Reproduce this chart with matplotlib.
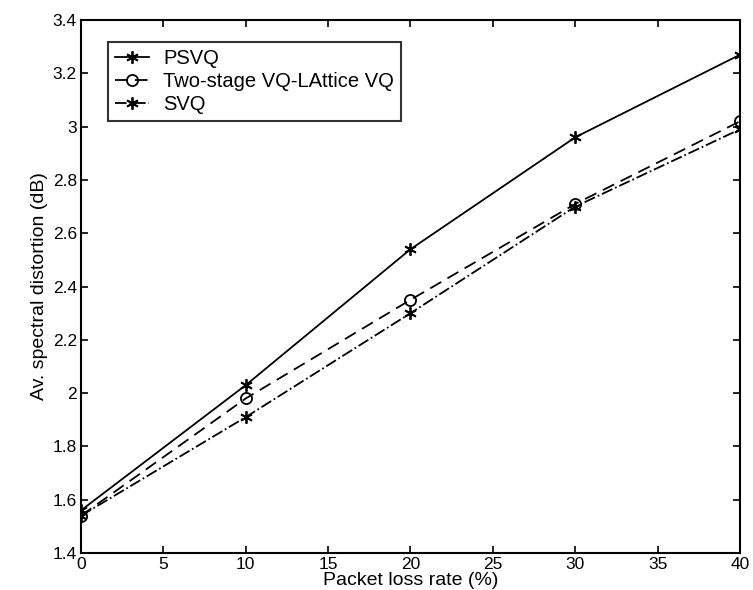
import numpy as np
import matplotlib
matplotlib.use("Agg")
import matplotlib.pyplot as plt

plt.rcParams['font.family'] = ['Liberation Sans', 'DejaVu Sans']

loss_rate = [0, 10, 20, 30, 40]
psvq = [1.56, 2.03, 2.54, 2.96, 3.27]
two_stage = [1.54, 1.98, 2.35, 2.71, 3.02]
svq = [1.54, 1.91, 2.30, 2.70, 2.99]

fig = plt.figure(figsize=(7.53, 5.9), dpi=100)
ax = fig.add_axes([0.1076, 0.0627, 0.8751, 0.9033])

star = (6, 2, 0)  # thin asterisk, like matlab '*'
ax.plot(loss_rate, psvq, 'k-', marker=star, markersize=9, markeredgewidth=1.3,
        linewidth=1.3, label='PSVQ')
ax.plot(loss_rate, two_stage, 'k--', marker='o', markersize=8, markerfacecolor='none',
        markeredgewidth=1.3, linewidth=1.3, dashes=(7, 4), label='Two-stage VQ-LAttice VQ')
ax.plot(loss_rate, svq, 'k-.', marker=star, markersize=9, markeredgewidth=1.3,
        linewidth=1.3, label='SVQ')

ax.set_xlim(0, 40)
ax.set_ylim(1.4, 3.4)
ax.set_xticks(np.arange(0, 41, 5))
ax.set_yticks(np.arange(1.4, 3.41, 0.2))
ax.set_yticklabels(['1.4', '1.6', '1.8', '2', '2.2', '2.4', '2.6', '2.8', '3', '3.2', '3.4'])
ax.tick_params(direction='in', length=5, labelsize=12.5, width=1.2, pad=3)
ax.tick_params(top=True, right=True)
for s in ax.spines.values():
    s.set_linewidth(1.5)

ax.set_xlabel('Packet loss rate (%)', fontsize=14, labelpad=0)
ax.set_ylabel('Av. spectral distortion (dB)', fontsize=14, labelpad=3)

leg = ax.legend(loc='upper left', bbox_to_anchor=(0.041, 0.959), fontsize=14.5,
                frameon=True, fancybox=False, edgecolor='black', handlelength=1.7,
                handletextpad=0.7, borderaxespad=0.0, labelspacing=0.2,
                borderpad=0.35)
leg.get_frame().set_linewidth(1.5)

fig.savefig('out.png', dpi=100)
